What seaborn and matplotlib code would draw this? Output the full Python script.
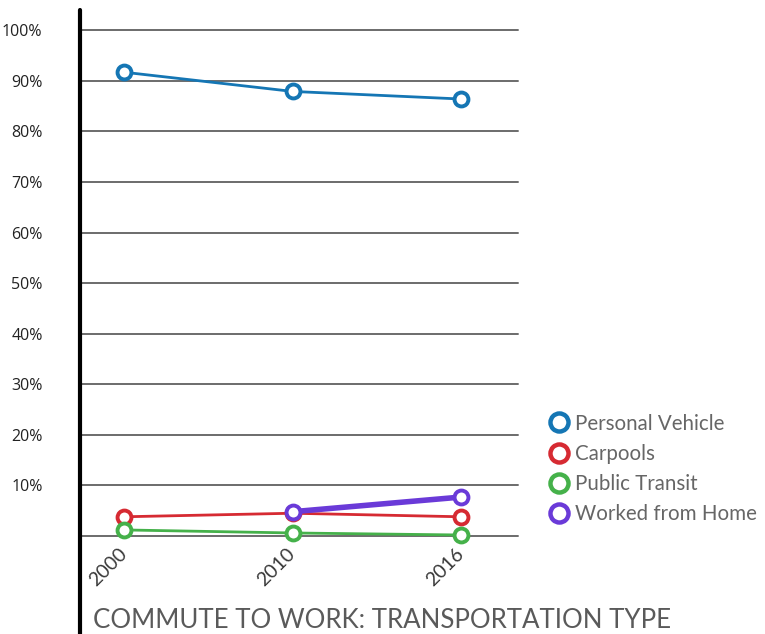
import pandas as pd
import numpy as np
import matplotlib
matplotlib.use("Agg")
import matplotlib.pyplot as plt
import seaborn as sns
from matplotlib.lines import Line2D

years = ["2000", "2010", "2016"]
personal_vehicle = [91.7, 87.9, 86.4]
carpools = [3.8, 4.5, 3.8]
public_transit = [1.2, 0.6, 0.2]
worked_from_home = [np.nan, 4.8, 7.7]

series = ["Personal Vehicle", "Carpools", "Public Transit", "Worked from Home"]
colors = ["#1576b4", "#d62a32", "#45b14a", "#6a3ad8"]
widths = [2.0, 2.0, 2.0, 4.0]

df = pd.DataFrame({
    "year": years * 4,
    "share": personal_vehicle + carpools + public_transit + worked_from_home,
    "mode": [s for s in series for _ in years],
})

sns.set_style("white")
plt.rcParams["font.family"] = ["Lato", "DejaVu Sans"]

fig = plt.figure(figsize=(7.65, 6.34), dpi=100)
ax = fig.add_axes([80 / 765, 1 - 536 / 634, 438 / 765, 526 / 634])

for s, c, w in zip(series, colors, widths):
    sub = df[df["mode"] == s].dropna()
    sns.lineplot(data=sub, x="year", y="share", ax=ax, color=c, lw=w,
                 marker="o", markersize=10, markerfacecolor="white",
                 markeredgecolor=c, markeredgewidth=2.8, clip_on=False,
                 zorder=3, legend=False)

ax.set_xlim(-0.261, 2.338)
ax.set_ylim(0, 104)
for v in range(0, 101, 10):
    ax.axhline(v, color="#6b6b6b", lw=1.4, zorder=1, clip_on=False)

for sp in ["top", "right", "bottom", "left"]:
    ax.spines[sp].set_visible(False)
fig.add_artist(Line2D([80 / 765, 80 / 765], [0, 1 - 10 / 634],
                      color="black", lw=3, transform=fig.transFigure))

ax.set_yticks(range(10, 101, 10))
ax.set_yticklabels([f"{v}%" for v in range(10, 101, 10)],
                   fontfamily="Open Sans", fontsize=11.5, color="#222222")
ax.tick_params(axis="y", length=0, pad=27)
ax.set_xticks(range(len(years)))
ax.set_xticklabels(years, rotation=45, ha="right", va="center",
                   rotation_mode="anchor", fontsize=14, color="#3a3a3a")
ax.tick_params(axis="x", length=0, pad=11)
ax.set_xlabel("")
ax.set_ylabel("")

fig.text(93 / 765, 1 - 621 / 634, "COMMUTE TO WORK: TRANSPORTATION TYPE",
         fontsize=18.6, color="#5a5a5a", ha="left", va="center")

handles = [Line2D([], [], ls="none", marker="o", markersize=13,
                  markerfacecolor="white", markeredgecolor=c,
                  markeredgewidth=3.2) for c in colors]
leg = fig.legend(handles, series, loc="upper left",
                 bbox_to_anchor=(530 / 765, 1 - 395 / 634), frameon=False,
                 handlelength=1.0, handletextpad=0.3, labelspacing=0.5,
                 fontsize=14.8)
for t in leg.get_texts():
    t.set_color("#666666")

fig.savefig("out.png", dpi=100)
